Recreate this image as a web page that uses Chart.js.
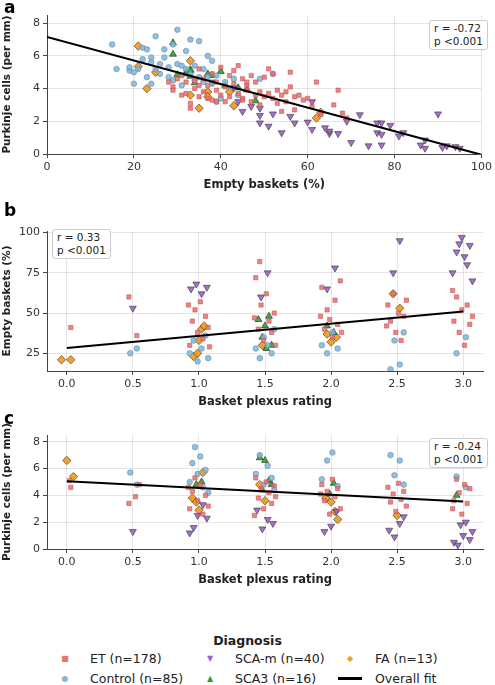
<!DOCTYPE html>
<html>
<head>
<meta charset="utf-8">
<script src="https://cdn.jsdelivr.net/npm/chart.js@4.4.0/dist/chart.umd.min.js"></script>
<style>
  body { margin: 0; background: #fff; font-family: "DejaVu Sans", sans-serif; }
  #wrap { position: relative; width: 495px; height: 685px; overflow: hidden; }
  canvas { position: absolute; left: 0; }
  .tag { position: absolute; left: 4px; font-weight: bold; font-size: 17px; }
  .stat { position: absolute; font-size: 10.5px; line-height: 13px; border: 1px solid #ccc;
          border-radius: 3px; padding: 1px 4px; background: #fff; color: #222; }
  #legend { position: absolute; top: 633px; left: 0; width: 495px; font-size: 12.5px; color: #222; }
  #legend .title { text-align: center; font-weight: bold; margin-bottom: 3px; }
  #legend .grid { display: grid; grid-template-columns: 145px 140px 120px; margin-left: 52px; row-gap: 5px; }
  #legend .it { display: flex; align-items: center; }
  #legend .sw { width: 26px; display: inline-block; text-align: center; margin-right: 12px; font-size: 8px; }
</style>
</head>
<body>
<div id="wrap">
  <canvas id="ca" width="495" height="208" style="top:-15px"></canvas>
  <canvas id="cb" width="495" height="212" style="top:198px"></canvas>
  <canvas id="cc" width="495" height="188" style="top:400px"></canvas>
  <div class="tag" style="top:-3px">a</div>
  <div class="tag" style="top:200px">b</div>
  <div class="tag" style="top:408px">c</div>
  <div class="stat" style="top:20px; left:429px">r = -0.72<br>p &lt;0.001</div>
  <div class="stat" style="top:229px; left:52px">r = 0.33<br>p &lt;0.001</div>
  <div class="stat" style="top:438px; left:429px">r = -0.24<br>p &lt;0.001</div>
  <div id="legend">
    <div class="title">Diagnosis</div>
    <div class="grid">
      <div class="it"><span class="sw" style="color:#e87476">■</span>ET (n=178)</div>
      <div class="it"><span class="sw" style="color:#9b63c9">▼</span>SCA-m (n=40)</div>
      <div class="it"><span class="sw" style="color:#f39c1e">◆</span>FA (n=13)</div>
      <div class="it"><span class="sw" style="color:#8bb8d6">●</span>Control (n=85)</div>
      <div class="it"><span class="sw" style="color:#2ca02c">▲</span>SCA3 (n=16)</div>
      <div class="it"><span class="sw"><span style="display:inline-block;width:24px;height:3px;background:#000;vertical-align:middle"></span></span>Overall fit</div>
    </div>
  </div>
</div>
<script>
// ---- panel a: empty baskets (%) vs Purkinje cells ----
const aET = [[28,4.4],[29,4.1],[29,3.9],[30,4.6],[31,3.6],[31,4.8],[32,3.7],[32,4.4],[33,2.8],[33,3.1],[34,4.0],[34,4.5],[35,4.2],[35,5.2],[36,3.8],[36,4.6],[37,4.2],[37,3.4],[38,3.3],[38,4.9],[39,3.9],[39,4.4],[40,3.6],[40,5.3],[41,4.1],[41,3.2],[42,4.8],[42,3.5],[43,4.3],[43,5.1],[44,3.7],[44,5.4],[45,3.4],[45,4.6],[46,3.9],[46,4.2],[47,3.2],[47,4.8],[48,3.6],[48,4.4],[49,3.8],[49,3.0],[50,4.7],[50,3.5],[51,3.7],[51,5.2],[52,3.4],[52,4.9],[53,3.1],[53,3.9],[54,3.6],[54,2.6],[55,3.8],[55,3.2],[56,4.1],[56,5.0],[57,3.5],[57,2.7],[58,3.6],[59,3.3],[60,3.4],[61,2.9],[62,4.4],[63,2.4],[66,3.0],[67,3.9],[68,2.5],[69,2.2],[35,3.5],[39,3.2],[45,3.3],[46,4.4]];
const aCtrl = [[15,6.7],[16,5.2],[19,5.1],[19,5.3],[20,4.3],[20,5.0],[21,5.2],[22,5.8],[22,6.5],[23,6.4],[23,4.7],[24,5.6],[24,5.9],[24,4.3],[25,7.2],[25,5.2],[26,5.5],[26,4.9],[27,6.4],[27,5.9],[28,5.3],[28,4.7],[29,6.7],[29,4.5],[30,7.6],[30,5.5],[31,5.4],[31,4.2],[32,6.3],[32,5.2],[33,7.0],[33,4.9],[34,5.4],[34,4.5],[35,4.7],[35,6.9],[36,5.2],[36,4.4],[37,6.0],[37,4.7],[38,5.7],[38,4.3],[39,3.2],[39,4.8],[40,3.4],[41,4.4],[43,4.6],[44,3.6],[49,4.6],[52,4.9]];
const aSCAm = [[43,4.05],[45,2.6],[49,2.8],[49,2.35],[49,1.9],[52,2.45],[51,1.7],[54,1.3],[56,2.3],[57,1.9],[60,1.95],[61,3.2],[61,1.5],[64,1.6],[65,1.25],[65,1.4],[67,1.25],[69,2.0],[70,0.7],[72,2.4],[74,0.5],[76,1.3],[76,1.9],[77,1.9],[77,1.2],[77,0.55],[79,1.75],[81,1.1],[82,1.3],[86,0.55],[87,0.85],[87,0.35],[90,2.45],[91,0.4],[92,0.5],[94,0.45],[95,0.35],[38,4.4],[44,3.2],[47,2.9]];
const aSCA3 = [[29,6.8],[29,6.1],[30,4.85],[33,5.1],[33,4.75],[34,4.35],[32,5.0],[38,4.8],[40,5.05],[41,4.2],[44,4.05],[46,3.95],[48,3.25],[33,5.15],[32,4.9],[37,4.9]];
const aFA = [[21,6.6],[21,5.35],[25,5.0],[23,4.0],[33,5.7],[33,3.6],[35,2.8],[37,3.8],[37,3.5],[42,3.8],[43,2.95],[62,2.2],[63,2.55]];
const aFit = [[0,7.15],[100,-0.05]];

// ---- panel b: basket plexus rating vs empty baskets (%) ----
const bET = [[0.03,41],[0.47,60],[0.53,36],[0.93,30],[0.95,45],[0.97,52],[0.99,38],[1.01,57],[1.03,34],[1.05,48],[1.07,41],[0.92,55],[1.08,29],[1.43,72],[1.45,40],[1.47,55],[1.49,33],[1.51,62],[1.53,45],[1.55,38],[1.57,50],[1.42,47],[1.58,30],[1.46,82],[1.93,66],[1.95,40],[1.97,52],[1.99,46],[2.01,35],[2.03,58],[2.05,43],[2.07,70],[1.92,48],[2.08,38],[2.43,55],[2.45,45],[2.47,62],[2.49,38],[2.51,50],[2.53,33],[2.55,48],[2.57,58],[2.42,42],[2.93,45],[2.95,60],[2.97,38],[2.99,52],[3.01,30],[3.03,55],[3.05,43],[2.92,64],[3.07,48]];
const bCtrl = [[0.48,25],[0.53,28],[0.93,25],[0.96,33],[0.99,20],[1.02,28],[1.05,36],[1.07,22],[1.43,28],[1.46,22],[1.49,35],[1.52,30],[1.55,25],[1.57,40],[1.93,30],[1.97,25],[2.01,38],[2.05,28],[2.45,15],[2.48,33],[2.52,18],[2.55,38],[2.95,25],[3.02,35]];
const bSCAm = [[0.5,53],[0.94,65],[0.98,68],[1.02,62],[1.06,66],[1.47,60],[1.52,75],[1.97,65],[2.03,78],[2.47,75],[2.52,95],[2.92,75],[2.95,88],[2.97,93],[2.99,97],[3.01,85],[3.03,80],[3.05,92],[3.07,70]];
const bSCA3 = [[1.45,46],[1.48,35],[1.5,42],[1.53,48],[1.55,30],[1.97,42],[2.02,38],[1.51,28]];
const bFA = [[-0.04,21],[0.03,21],[0.96,23],[0.99,25],[1.02,40],[1.04,42],[1.48,30],[1.97,37],[2.0,32],[2.04,35],[2.47,62],[2.52,53],[1.0,33]];
const bFit = [[0,28.3],[3,51]];

// ---- panel c: basket plexus rating vs Purkinje cells ----
const cET = [[0.03,4.6],[0.02,5.1],[0.47,3.4],[0.52,3.9],[0.55,4.8],[0.93,3.0],[0.95,4.3],[0.97,5.3],[0.99,3.6],[1.01,4.8],[1.03,2.6],[1.05,4.0],[1.07,3.2],[0.92,4.6],[1.43,5.3],[1.45,3.8],[1.47,4.5],[1.49,3.0],[1.51,5.0],[1.53,4.2],[1.55,3.4],[1.57,4.7],[1.42,2.5],[1.58,3.9],[1.93,4.8],[1.95,3.6],[1.97,4.3],[1.99,2.6],[2.01,5.2],[2.03,3.9],[2.05,4.5],[2.07,3.0],[1.92,4.1],[2.43,4.6],[2.45,3.5],[2.47,4.1],[2.49,2.8],[2.51,4.9],[2.53,3.7],[2.55,4.3],[2.57,3.2],[2.93,3.6],[2.95,5.2],[2.97,4.2],[2.99,2.6],[3.01,4.8],[3.03,3.4],[3.05,4.5],[2.92,3.0]];
const cCtrl = [[0.48,5.7],[0.53,4.8],[0.93,5.0],[0.95,6.4],[0.97,7.6],[0.99,5.6],[1.01,6.9],[1.03,4.6],[1.05,5.9],[1.07,4.2],[1.43,5.6],[1.46,7.0],[1.49,4.8],[1.52,6.2],[1.55,5.3],[1.57,4.4],[1.93,5.2],[1.97,6.6],[2.01,7.2],[2.05,4.7],[2.45,7.0],[2.48,5.5],[2.52,6.6],[2.55,4.8],[2.95,5.4],[3.02,4.6]];
const cSCAm = [[0.5,1.3],[0.93,1.2],[0.96,1.6],[0.99,2.5],[1.03,3.3],[1.06,2.3],[1.44,2.9],[1.48,1.5],[1.52,2.2],[1.56,1.9],[1.95,1.3],[2.0,1.7],[2.04,2.8],[2.44,1.4],[2.48,0.9],[2.52,1.9],[2.55,2.4],[2.93,0.5],[2.96,0.3],[2.98,1.8],[3.0,1.0],[3.02,2.0],[3.05,0.7],[3.07,1.3]];
const cSCA3 = [[0.98,4.8],[1.02,5.0],[1.46,6.8],[1.5,6.6],[1.53,5.1],[1.48,4.4],[1.55,4.8],[1.99,4.1],[2.02,4.9],[2.95,4.0]];
const cFA = [[0.0,6.6],[0.05,5.4],[0.95,3.8],[0.98,3.5],[1.0,2.9],[1.03,5.7],[1.46,4.8],[1.5,3.6],[1.96,3.8],[2.0,3.5],[2.03,2.8],[2.05,2.2],[2.5,2.5]];
const cFit = [[0,5.05],[3,3.55]];

const toPts = arr => arr.map(([x, y]) => ({ x, y }));
const tickFont = { family: 'DejaVu Sans', size: 11 };
const titleFont = { family: 'DejaVu Sans', size: 11.5, weight: 'bold' };
const yTitleFont = { family: 'DejaVu Sans', size: 10.5, weight: 'bold' };

function groups(et, ctrl, scam, sca3, fa, fit) {
  const sc = (data, style, bg, bd, r, rot) => ({
    type: 'scatter', data: toPts(data), pointStyle: style, rotation: rot || 0,
    backgroundColor: bg, borderColor: bd, borderWidth: 0.6, pointRadius: r
  });
  return [
    { type: 'line', data: toPts(fit), borderColor: '#000', borderWidth: 2, pointRadius: 0, order: 0 },
    sc(et, 'rect', 'rgba(232,110,112,0.85)', '#c45555', 3),
    sc(ctrl, 'circle', 'rgba(130,180,214,0.85)', '#5d8fb0', 2.8),
    sc(scam, 'triangle', 'rgba(155,95,205,0.9)', '#333', 4, 180),
    sc(sca3, 'triangle', 'rgba(44,170,44,0.95)', '#222', 4),
    sc(fa, 'rectRot', 'rgba(243,156,30,0.95)', '#333', 4.2)
  ];
}

function makeChart(id, datasets, xs, ys, xTitle, yTitle) {
  new Chart(document.getElementById(id), {
    data: { datasets },
    options: {
      responsive: false, animation: false,
      layout: { padding: { top: xs.padTop, right: 12, left: 0 } },
      plugins: { legend: { display: false }, tooltip: { enabled: false } },
      scales: {
        x: {
          type: 'linear', min: xs.min, max: xs.max,
          ticks: { stepSize: xs.step, color: '#333', font: tickFont, callback: xs.cb },
          afterBuildTicks: xs.ticksFn,
          grid: { color: 'rgba(0,0,0,0.1)', tickColor: '#444', tickLength: 4 },
          border: { color: '#444' },
          title: { display: true, text: xTitle, color: '#222', font: titleFont, padding: 1 }
        },
        y: {
          min: ys.min, max: ys.max,
          ticks: { stepSize: ys.step, color: '#333', font: tickFont },
          afterBuildTicks: ys.ticksFn,
          afterFit: s => { s.width = 47; },
          grid: { color: 'rgba(0,0,0,0.1)', tickColor: '#444', tickLength: 4 },
          border: { color: '#444' },
          title: { display: true, text: yTitle, color: '#222', font: yTitleFont, padding: 1 }
        }
      }
    }
  });
}

const ratingTicks = s => { s.ticks = [0, 0.5, 1, 1.5, 2, 2.5, 3].map(v => ({ value: v })); };
const fmt1 = v => Number(v).toFixed(1);

makeChart('ca', groups(aET, aCtrl, aSCAm, aSCA3, aFA, aFit),
  { min: 0, max: 100, step: 20, padTop: 30 }, { min: 0, max: 8.5, step: 2,
    ticksFn: s => { s.ticks = [0, 2, 4, 6, 8].map(v => ({ value: v })); } },
  'Empty baskets (%)', 'Purkinje cells (per mm)');
makeChart('cb', groups(bET, bCtrl, bSCAm, bSCA3, bFA, bFit),
  { min: -0.15, max: 3.15, ticksFn: ratingTicks, cb: fmt1, padTop: 33 },
  { min: 14, max: 101, ticksFn: s => { s.ticks = [25, 50, 75, 100].map(v => ({ value: v })); } },
  'Basket plexus rating', 'Empty baskets (%)');
makeChart('cc', groups(cET, cCtrl, cSCAm, cSCA3, cFA, cFit),
  { min: -0.15, max: 3.15, ticksFn: ratingTicks, cb: fmt1, padTop: 35 },
  { min: 0, max: 8.5, ticksFn: s => { s.ticks = [0, 2, 4, 6, 8].map(v => ({ value: v })); } },
  'Basket plexus rating', 'Purkinje cells (per mm)');
</script>
</body>
</html>
